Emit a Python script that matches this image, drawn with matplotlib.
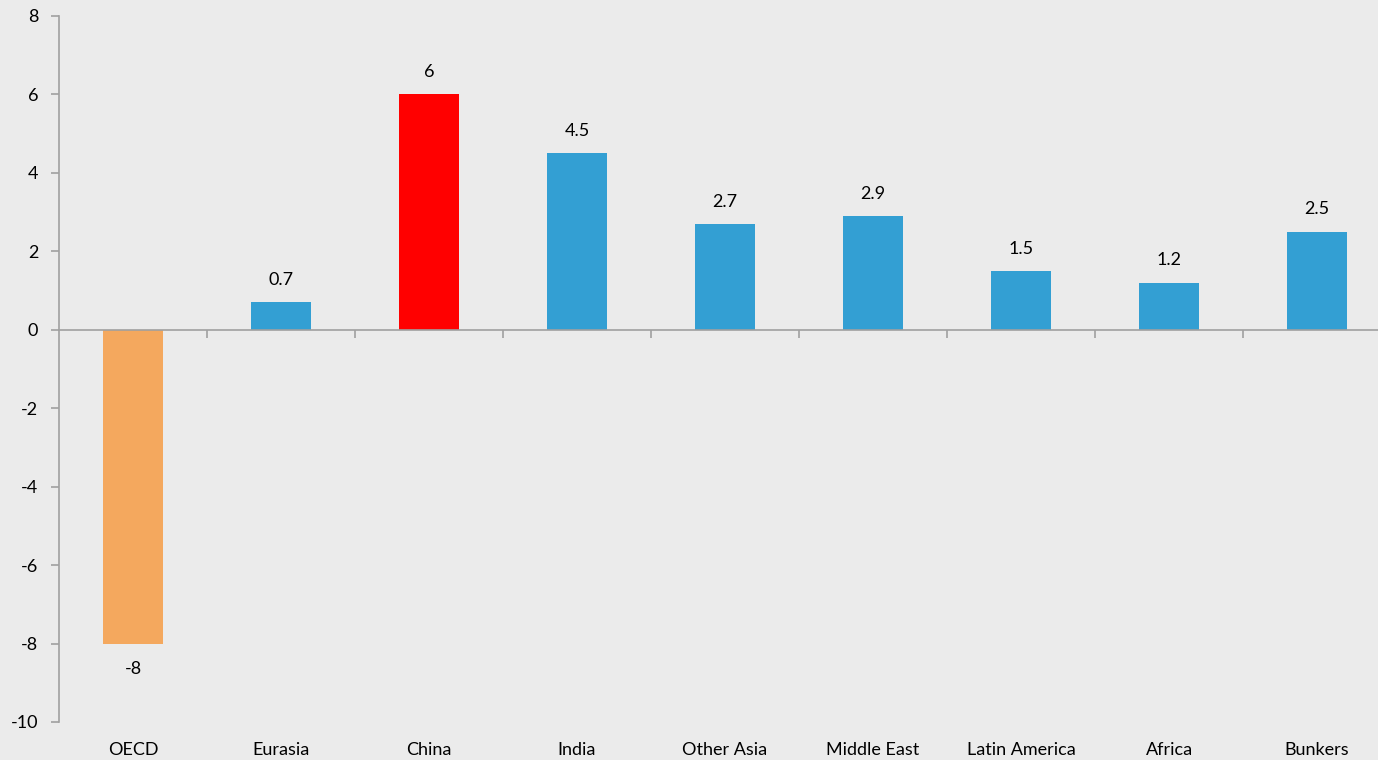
import matplotlib
matplotlib.use("Agg")
import matplotlib.pyplot as plt
import matplotlib.transforms as mtransforms
import numpy as np

categories = ["OECD", "Eurasia", "China", "India", "Other Asia", "Middle East",
              "Latin America", "Africa", "Bunkers"]
values = [-8, 0.7, 6, 4.5, 2.7, 2.9, 1.5, 1.2, 2.5]
labels = ["-8", "0.7", "6", "4.5", "2.7", "2.9", "1.5", "1.2", "2.5"]
colors = ["#F4A85E", "#339FD3", "#FF0000", "#339FD3", "#339FD3", "#339FD3",
          "#339FD3", "#339FD3", "#339FD3"]
yticks = [-10, -8, -6, -4, -2, 0, 2, 4, 6, 8]

plt.rcParams['font.family'] = ['Lato', 'DejaVu Sans']
bg = "#EBEBEB"
fs = 13
fig = plt.figure(figsize=(13.78, 7.6), dpi=100, facecolor=bg)
ax = fig.add_axes([59/1378, 1 - 722/760, 1332/1378, 706/760])
ax.set_facecolor(bg)

x = np.arange(len(categories))
ax.bar(x, values, width=0.405, color=colors, zorder=2)
ax.set_xlim(-0.5, len(categories) - 0.5)
ax.set_ylim(-10, 8)

for xi, v, lab in zip(x, values, labels):
    if v >= 0:
        ax.annotate(lab, (xi, v), xytext=(0, 16), textcoords="offset points",
                    ha="center", va="center", fontsize=fs)
    else:
        ax.annotate(lab, (xi, v), xytext=(0, -18), textcoords="offset points",
                    ha="center", va="center", fontsize=fs)

for s in ["top", "right"]:
    ax.spines[s].set_visible(False)
ax.spines["bottom"].set_position(("data", 0))
ax.spines["left"].set_color("#A0A0A0")
ax.spines["bottom"].set_color("#A0A0A0")
ax.spines["left"].set_linewidth(1.2)
ax.spines["bottom"].set_linewidth(1.2)
ax.spines["bottom"].set_zorder(3)

ax.set_yticks(yticks)
ax.set_yticklabels([str(t) for t in yticks], fontsize=fs)
ax.tick_params(axis="y", direction="out", length=6, width=1.2, color="#A0A0A0", pad=9)

ax.set_xticks(np.arange(len(categories) - 1) + 0.5)
ax.set_xticklabels([])
ax.tick_params(axis="x", direction="out", length=6, width=1.2, color="#A0A0A0")

trans = mtransforms.blended_transform_factory(ax.transData, ax.transAxes)
for xi, c in zip(x, categories):
    ax.text(xi, -28/706, c, transform=trans, ha="center", va="center", fontsize=fs)

fig.savefig("out.png", dpi=100, facecolor=bg)
